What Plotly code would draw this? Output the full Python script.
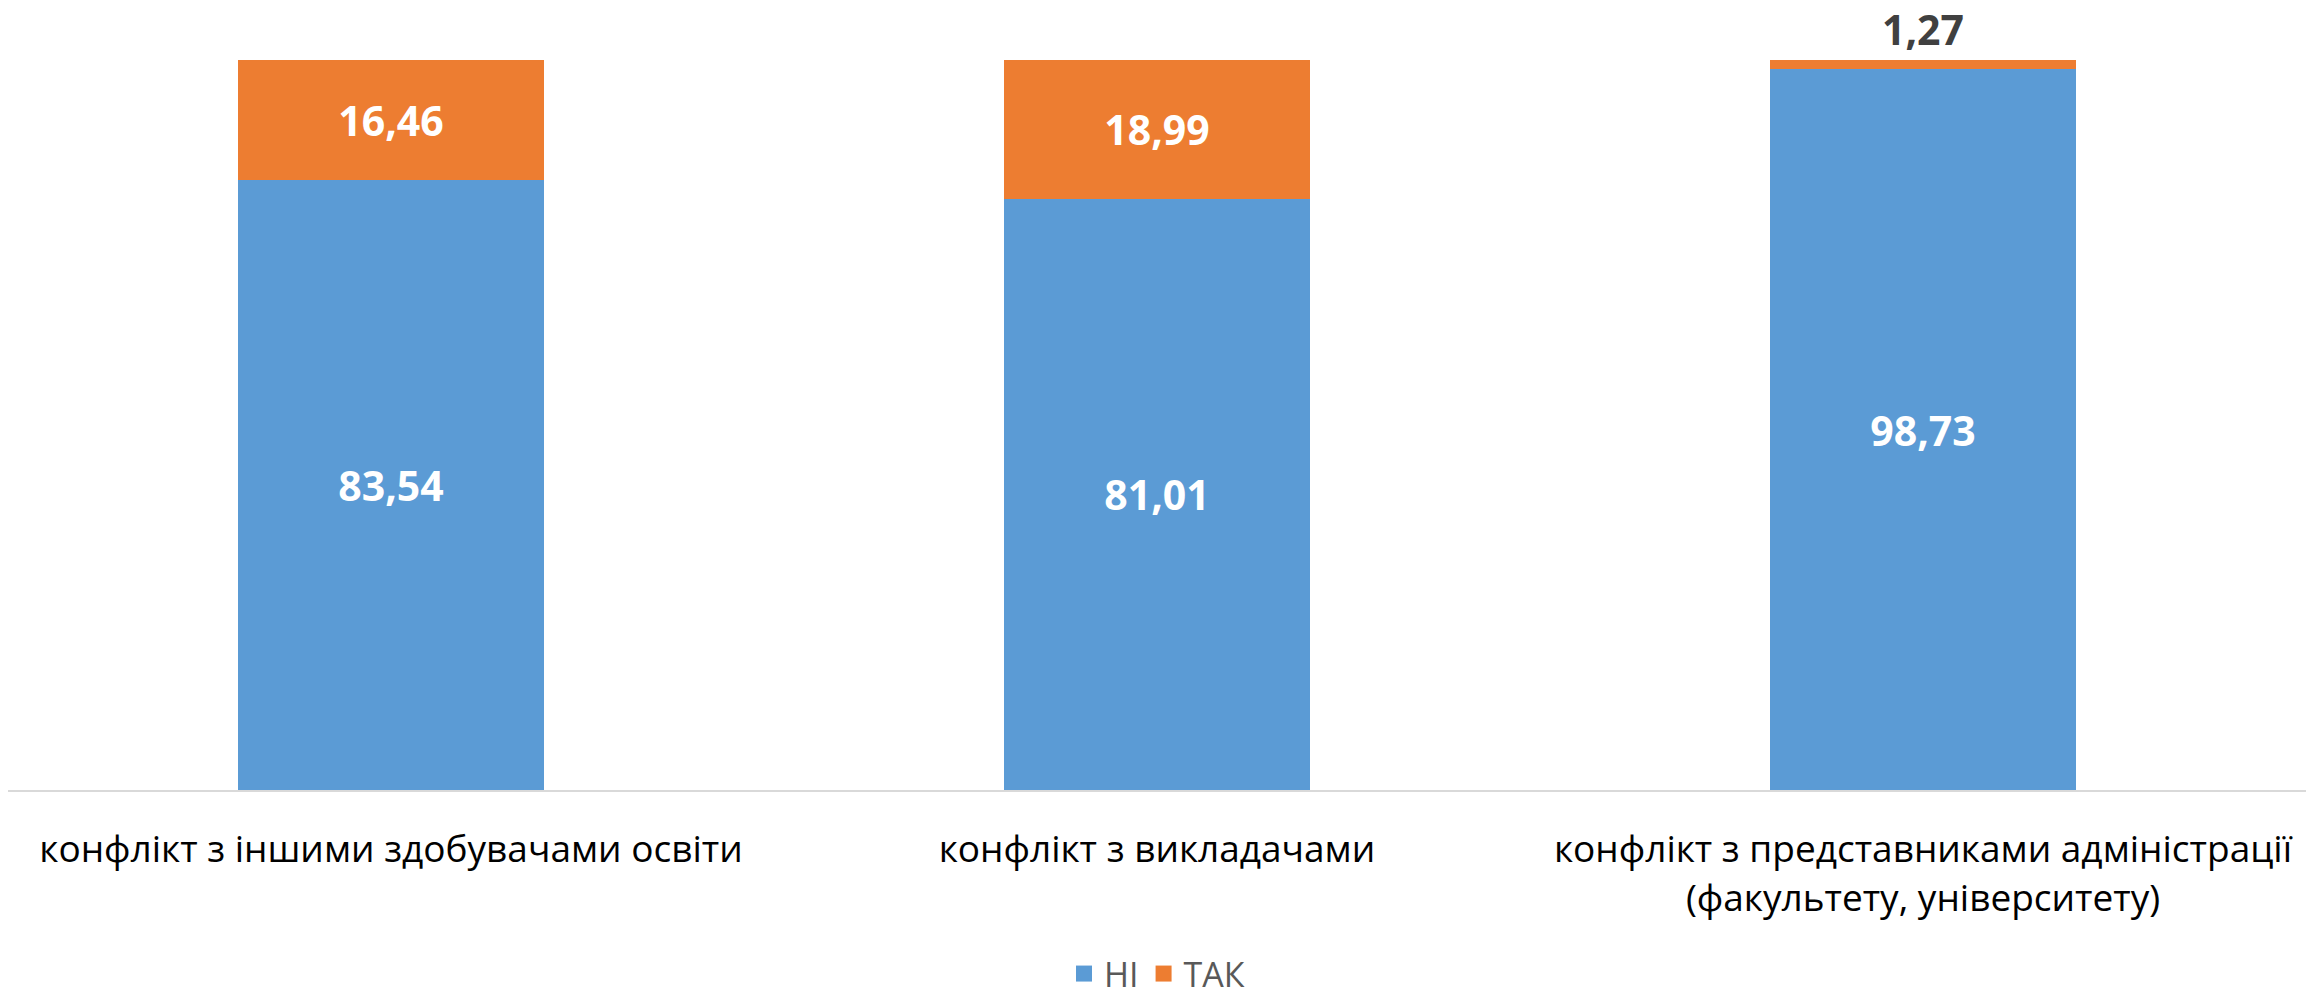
import plotly.graph_objects as go

categories = [
    "конфлікт з іншими здобувачами освіти",
    "конфлікт з викладачами",
    "конфлікт з представниками адміністрації<br>(факультету, університету)",
]
ni_values = [83.54, 81.01, 98.73]
tak_values = [16.46, 18.99, 1.27]
series_names = ["НІ", "ТАК"]
series_colors = ["#5B9BD5", "#ED7D31"]

def fmt(v):
    return f"{v:.2f}".replace(".", ",")

FONT = "Open Sans"

fig = go.Figure()
fig.add_trace(go.Bar(
    x=categories, y=ni_values, name=series_names[0], showlegend=False,
    marker=dict(color=series_colors[0], line=dict(width=0)),
    text=[fmt(v) for v in ni_values],
    textposition="inside", insidetextanchor="middle",
    constraintext="none",
    insidetextfont=dict(family=FONT, size=41, color="white", weight="bold"),
    cliponaxis=False,
))
fig.add_trace(go.Bar(
    x=categories, y=tak_values, name=series_names[1], showlegend=False,
    marker=dict(color=series_colors[1], line=dict(width=0)),
    text=[fmt(v) for v in tak_values],
    textposition=["inside" if v > 5 else "outside" for v in tak_values],
    insidetextanchor="middle",
    constraintext="none",
    insidetextfont=dict(family=FONT, size=41, color="white", weight="bold"),
    outsidetextfont=dict(family=FONT, size=41, color="#404040", weight="bold"),
    cliponaxis=False,
))
# legend entries with square swatches
for name, color in zip(series_names, series_colors):
    fig.add_trace(go.Scatter(
        x=[None], y=[None], mode="markers", name=name,
        marker=dict(symbol="square", size=24, color=color),
        showlegend=True, hoverinfo="skip",
    ))

fig.update_layout(
    width=2320, height=995,
    barmode="stack", bargap=0.6,
    plot_bgcolor="white", paper_bgcolor="white",
    margin=dict(l=0, r=22, t=52, b=206),
    font=dict(family=FONT, size=37, color="black"),
    showlegend=True,
    legend=dict(
        orientation="h", x=0.5, xanchor="center", y=-0.252, yanchor="middle",
        font=dict(family=FONT, size=34, color="#595959"),
        traceorder="normal", itemwidth=30,
    ),
)
fig.update_xaxes(
    showline=True, linecolor="#D9D9D9", linewidth=2,
    showgrid=False, ticks="", ticklabelstandoff=26,
    tickfont=dict(family=FONT, size=37, color="black"),
)
fig.update_yaxes(visible=False, range=[0, 100], showgrid=False)

fig.write_html("out.html")
